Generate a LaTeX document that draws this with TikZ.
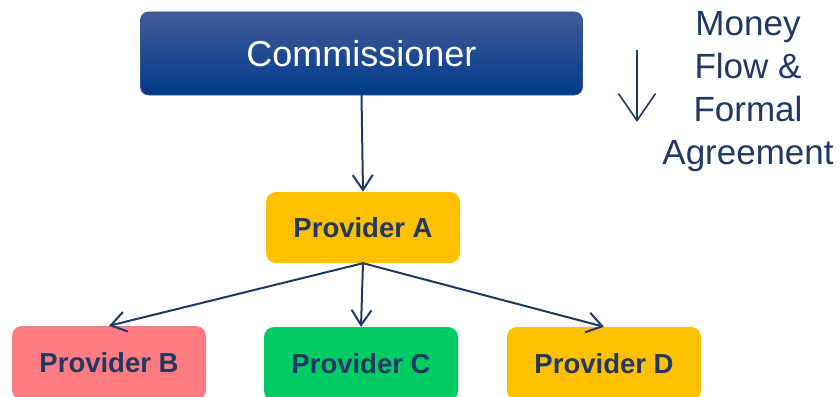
\documentclass[tikz,border=0pt]{standalone}
\usepackage{fontspec}
\setmainfont{Liberation Sans}
\usetikzlibrary{arrows.meta}
\definecolor{navy}{RGB}{31,56,100}
\definecolor{commtop}{RGB}{66,92,152}
\definecolor{commmid}{RGB}{10,64,142}
\definecolor{commbot}{RGB}{0,58,138}
\definecolor{gold}{RGB}{255,192,0}
\definecolor{salmon}{RGB}{255,124,128}
\definecolor{leaf}{RGB}{0,204,102}

\begin{document}
\begin{tikzpicture}[>={Straight Barb[length=15pt,width=20pt]},x=1pt,y=-1pt,
	prov/.style={rounded corners=10pt,minimum width=194pt,minimum height=71pt,inner sep=0pt,text=navy,font=\bfseries\fontsize{27.5}{32}\selectfont},
	flow/.style={->,draw=navy,line width=2pt,line cap=round}]
	%	\draw[color=gray,xstep=20pt,ystep=20pt] (0,0) grid (840,396);
	\useasboundingbox (0,0) rectangle (840,396);
	\node[rounded corners=8pt,top color=commtop,middle color=commmid,bottom color=commbot,draw=commtop!80!commbot,line width=0.6pt,minimum width=442pt,minimum height=83pt,inner sep=0pt,text=white,font=\fontsize{36}{42}\selectfont] (comm) at (361.5,53.5) {Commissioner};
	\node[prov,fill=gold] (provA) at (363,227.5) {Provider A};
	\node[prov,fill=salmon,minimum height=74pt] (provB) at (109,363) {Provider B};
	\node[prov,fill=leaf,minimum height=74pt] (provC) at (361,364) {Provider C};
	\node[prov,fill=gold,minimum height=74pt] (provD) at (604,364) {Provider D};
	% arrows
	\draw[flow] (comm.south) -- (provA.north);
	\draw[flow] (provA.south) -- (provB.north);
	\draw[flow] (provA.south) -- (provC.north);
	\draw[flow] (provA.south) -- (provD.north);
	% legend
	\coordinate (legtop) at (637,50);
	\coordinate (legtip) at (637,122);
	\draw[->,draw=navy,line width=1.6pt,>={Straight Barb[length=27pt,width=37pt]}] (legtop) -- (legtip);
	\node[align=center,anchor=north,inner sep=0pt,text=navy,font=\fontsize{35}{43}\selectfont] (legend) at (748,11) {Money\\Flow \&\\Formal\\Agreement};
\end{tikzpicture}
\end{document}
